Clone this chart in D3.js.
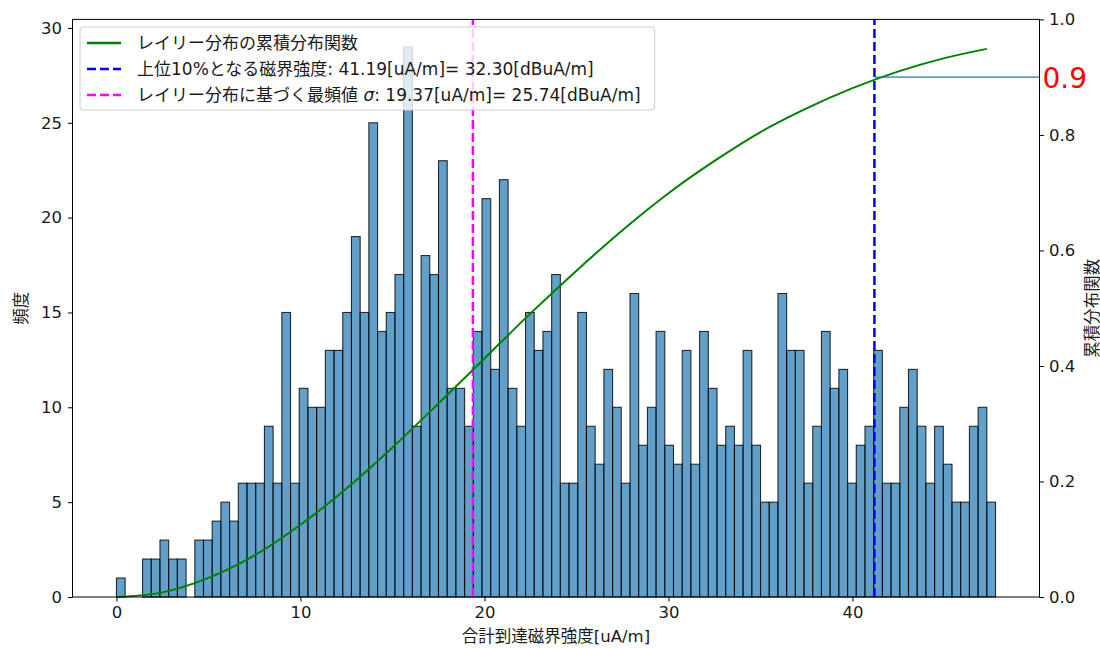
<!DOCTYPE html>
<html><head><meta charset="utf-8">
<script src="https://cdn.jsdelivr.net/npm/d3@7"></script>
<style>
body{margin:0;background:#fff;}
svg{display:block;font-family:"DejaVu Sans","Noto Sans CJK JP",sans-serif;}
</style></head><body>
<svg id="chart" width="1100" height="648"></svg>
<script>
// ---- data ----
const binStart = 0.0;
const binWidth = 0.473;
const counts = [
  1,0,0,2,2,3,2,2,0,3,3,4,5,4,6,6,6,9,6,15,6,11,10,10,      // bins 0-23
  13,13,15,19,15,25,14,15,17,29,9,18,17,23,11,11,9,          // bins 24-40
  14,21,12,22,11,9,15,13,14,17,6,6,15,9,7,12,10,6,16,8,10,   // bins 41-61
  14,8,7,13,7,14,11,8,9,8,13,8,5,5,16,13,13,6,9,14,11,       // bins 62-82
  12,6,8,9,13,6,6,10,12,9,6,9,7,5,5,9,10,5                   // bins 83-100
];
const cdfX = [0,2.5,5,7.5,10,12.5,15,17.5,20,22.5,25,27.5,30,32.5,35,37.5,40,42.5,45,47.3];
const cdfY = [0,0.008,0.033,0.072,0.125,0.188,0.259,0.335,0.413,0.491,0.565,0.635,0.699,0.755,0.805,0.846,0.881,0.910,0.933,0.949];
const quantile90 = 41.19;
const modeSigma = 19.37;
const cdfLevel = 0.9;
const xTicks = [0,10,20,30,40];
const yLeftTicks = [0,5,10,15,20,25,30];
const yRightTicks = [0,0.2,0.4,0.6,0.8,1.0];
const legendLabels = [
  "レイリー分布の累積分布関数",
  "上位10%となる磁界強度: 41.19[uA/m]= 32.30[dBuA/m]",
  "レイリー分布に基づく最頻値 σ: 19.37[uA/m]= 25.74[dBuA/m]"
];
const legendColors = ["#008000","#0000ff","#ff00ff"];
const xLabel = "合計到達磁界強度[uA/m]";
const yLeftLabel = "頻度";
const yRightLabel = "累積分布関数";
const cdfLevelLabel = "0.9";

// ---- layout ----
const L = 72.5, R = 1039.5, T = 19.4, B = 597;
const svg = d3.select("#chart");
const lo = binStart, hi = binStart + counts.length * binWidth, pad = 0.05 * (hi - lo);
const x = d3.scaleLinear().domain([lo - pad, hi + pad]).range([L, R]);
const yL = d3.scaleLinear().domain([0, d3.max(counts) * 1.05]).range([B, T]);
const yR = d3.scaleLinear().domain([0, 1]).range([B, T]);

const bins = counts.map((c, i) => ({x0: binStart + i * binWidth, x1: binStart + (i + 1) * binWidth, c}));

// bars
svg.append("g").selectAll("rect").data(bins.filter(d => d.c > 0)).join("rect")
  .attr("x", d => x(d.x0)).attr("width", d => x(d.x1) - x(d.x0))
  .attr("y", d => yL(d.c)).attr("height", d => yL(0) - yL(d.c))
  .attr("fill", "#1f77b4").attr("fill-opacity", 0.7)
  .attr("stroke", "#000").attr("stroke-opacity", 0.8).attr("stroke-width", 1.1);

// magenta dashed line (mode)
svg.append("line").attr("x1", x(modeSigma)).attr("x2", x(modeSigma)).attr("y1", yL(0)).attr("y2", T)
  .attr("stroke", "#ff00ff").attr("stroke-width", 2.5).attr("stroke-dasharray", "9,4");

// CDF curve
const pts = cdfX.map((v, i) => [v, cdfY[i]]);
svg.append("path").datum(pts)
  .attr("d", d3.line().x(d => x(d[0])).y(d => yR(d[1])).curve(d3.curveMonotoneX))
  .attr("fill", "none").attr("stroke", "#008000").attr("stroke-width", 2);

// blue dashed (90% quantile)
svg.append("line").attr("x1", x(quantile90)).attr("x2", x(quantile90)).attr("y1", yR(0)).attr("y2", yR(1))
  .attr("stroke", "#0000ff").attr("stroke-width", 2.5).attr("stroke-dasharray", "9,4");

// horizontal 0.9 line
svg.append("line").attr("x1", x(quantile90)).attr("x2", R).attr("y1", yR(cdfLevel)).attr("y2", yR(cdfLevel))
  .attr("stroke", "#1f77b4").attr("stroke-width", 1.2);

// axes
const fs = 16.5;
function styleAxis(g) {
  g.select(".domain").remove();
  g.selectAll(".tick line").attr("stroke", "#000").attr("stroke-width", 1);
  g.selectAll(".tick text").attr("fill", "#1a1a1a").style("font-size", fs + "px").style("font-family", "DejaVu Sans");
}
svg.append("g").attr("transform", `translate(0,${B})`)
  .call(d3.axisBottom(x).tickValues(xTicks).tickFormat(d3.format("d")).tickSize(4.5).tickPadding(5))
  .call(styleAxis);
svg.append("g").attr("transform", `translate(${L},0)`)
  .call(d3.axisLeft(yL).tickValues(yLeftTicks).tickFormat(d3.format("d")).tickSize(4.5).tickPadding(6))
  .call(styleAxis);
svg.append("g").attr("transform", `translate(${R},0)`)
  .call(d3.axisRight(yR).tickValues(yRightTicks).tickFormat(d3.format(".1f")).tickSize(4.5).tickPadding(5))
  .call(styleAxis);

// spines
svg.append("rect").attr("x", L).attr("y", T).attr("width", R - L).attr("height", B - T)
  .attr("fill", "none").attr("stroke", "#000").attr("stroke-width", 1);

// red 0.9 label
svg.append("text").attr("x", R + 3).attr("y", yR(cdfLevel) + 11)
  .attr("fill", "#ff0000").style("font-size", "28px").style("font-family", "DejaVu Sans").text(cdfLevelLabel);

// axis labels
svg.append("text").attr("x", (L + R) / 2).attr("y", 642).attr("text-anchor", "middle")
  .style("font-size", fs + "px").attr("fill", "#1a1a1a").text(xLabel);
svg.append("text").attr("transform", `translate(21,${(T + B) / 2}) rotate(-90)`).attr("text-anchor", "middle")
  .attr("dominant-baseline", "central").style("font-size", fs + "px").attr("fill", "#1a1a1a").text(yLeftLabel);
svg.append("text").attr("transform", `translate(1092,${(T + B) / 2}) rotate(-90)`).attr("text-anchor", "middle")
  .attr("dominant-baseline", "central").style("font-size", fs + "px").attr("fill", "#1a1a1a").text(yRightLabel);

// legend
const lg = svg.append("g");
const box = lg.append("rect").attr("x", 80).attr("y", 27).attr("rx", 3).attr("height", 83)
  .attr("fill", "#fff").attr("fill-opacity", 0.8).attr("stroke", "#cccccc").attr("stroke-width", 1);
let maxEnd = 0;
legendLabels.forEach((lab, i) => {
  const cy = 43 + i * 26;
  lg.append("line").attr("x1", 87).attr("x2", 121).attr("y1", cy).attr("y2", cy)
    .attr("stroke", legendColors[i]).attr("stroke-width", 2.5)
    .attr("stroke-dasharray", i === 0 ? null : "9,4");
  const t = lg.append("text").attr("x", 137).attr("y", cy).attr("dominant-baseline", "central")
    .style("font-size", "17px").attr("fill", "#1a1a1a");
  if (lab.includes("σ")) {
    const parts = lab.split("σ");
    t.append("tspan").text(parts[0]);
    t.append("tspan").style("font-style", "italic").text("σ");
    t.append("tspan").text(parts[1]);
  } else t.text(lab);
  maxEnd = Math.max(maxEnd, 137 + t.node().getComputedTextLength());
});
box.attr("width", maxEnd + 14 - 80);
</script>
</body></html>
